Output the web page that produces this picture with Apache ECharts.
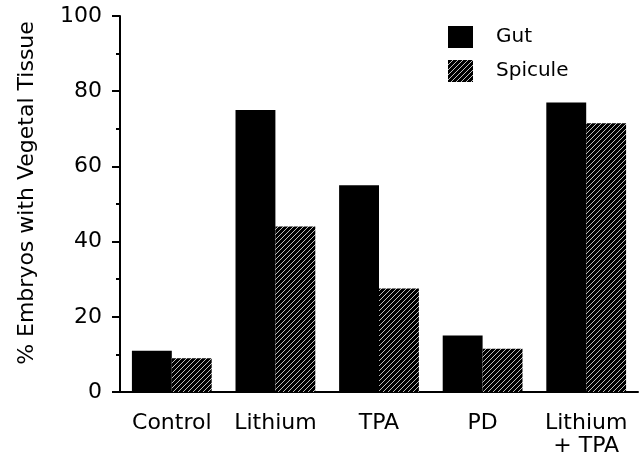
<!DOCTYPE html>
<html>
<head>
<meta charset="utf-8">
<script src="https://cdn.jsdelivr.net/npm/echarts@6/dist/echarts.min.js"></script>
<style>
  html, body { margin: 0; padding: 0; background: #fff; }
  #chart { width: 639px; height: 453px; }
</style>
</head>
<body>
<div id="chart"></div>
<script>
var categories = ['Control', 'Lithium', 'TPA', 'PD', 'Lithium\n+ TPA']
var gut = [11, 75, 55, 15, 77]
var spicule = [9, 44, 27.5, 11.5, 71.5]
var yTicks = [0, 20, 40, 60, 80, 100]

// black with thin white "/" hatching
function hatch() {
  var c = document.createElement('canvas')
  c.width = 5
  c.height = 5
  var ctx = c.getContext('2d')
  ctx.fillStyle = '#000'
  ctx.fillRect(0, 0, 5, 5)
  ctx.strokeStyle = 'rgba(255,255,255,0.75)'
  ctx.lineWidth = 1
  ctx.beginPath()
  ctx.moveTo(-1, 6)
  ctx.lineTo(6, -1)
  ctx.stroke()
  return c
}

var font = 'DejaVu Sans'
var chart = echarts.init(document.getElementById('chart'))

chart.setOption({
  backgroundColor: '#fff',
  animation: false,
  textStyle: { fontFamily: font, color: '#000' },
  legend: {
    left: 443,
    top: 21,
    orient: 'vertical',
    icon: 'rect',
    itemWidth: 25,
    itemHeight: 22,
    itemGap: 12,
    data: ['Gut', 'Spicule'],
    textStyle: {
      fontFamily: font,
      fontSize: 20,
      color: '#000',
      padding: [0, 0, 0, 18]
    }
  },
  grid: {
    left: 120,
    right: 1,
    top: 16,
    bottom: 61,
    outerBoundsMode: 'none'
  },
  xAxis: {
    type: 'category',
    data: categories,
    axisLine: { lineStyle: { color: '#000', width: 2 } },
    axisTick: { alignWithLabel: true, length: 10, lineStyle: { color: '#000', width: 2 } },
    axisLabel: {
      margin: 20,
      fontFamily: font,
      fontSize: 22,
      lineHeight: 23,
      color: '#000',
      interval: 0
    }
  },
  yAxis: {
    type: 'value',
    min: yTicks[0],
    max: yTicks[yTicks.length - 1],
    interval: 20,
    name: '% Embryos with Vegetal Tissue',
    nameLocation: 'middle',
    nameGap: 82,
    nameTextStyle: { fontFamily: font, fontSize: 22, color: '#000', padding: [0, 0, 0, 22] },
    axisLine: { show: true, lineStyle: { color: '#000', width: 2 } },
    axisTick: { show: true, length: 8, lineStyle: { color: '#000', width: 2 } },
    minorTick: { show: true, splitNumber: 2, length: 4, lineStyle: { color: '#000', width: 2 } },
    splitLine: { show: false },
    axisLabel: {
      margin: 18,
      fontFamily: font,
      fontSize: 22,
      color: '#000'
    }
  },
  series: [
    {
      name: 'Gut',
      type: 'bar',
      data: gut,
      barGap: 0,
      barCategoryGap: '23%',
      itemStyle: { color: '#000' }
    },
    {
      name: 'Spicule',
      type: 'bar',
      data: spicule,
      barGap: 0,
      barCategoryGap: '23%',
      itemStyle: { color: { image: hatch(), repeat: 'repeat' } }
    }
  ]
})
</script>
</body>
</html>
